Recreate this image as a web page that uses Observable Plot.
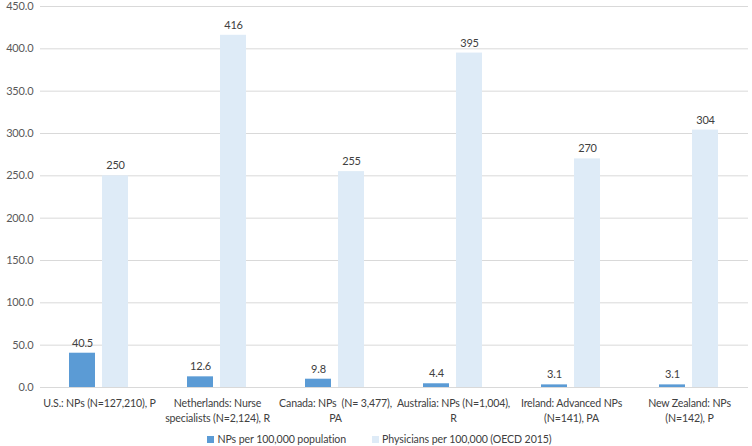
<!DOCTYPE html>
<html>
<head>
<meta charset="utf-8">
<script src="https://cdn.jsdelivr.net/npm/d3@7"></script>
<script src="https://cdn.jsdelivr.net/npm/@observablehq/plot@0.6"></script>
<style>
  body { margin: 0; background: #fff; font-family: Lato, "Open Sans", sans-serif; }
  #chart { width: 752px; }
  .legend { display: flex; justify-content: center; gap: 26px; font-size: 10.6px; letter-spacing: -0.1px; line-height: 14px; color: #404040; margin-top: 4px; padding-left: 7px; }
  .legend span.sw { display: inline-block; width: 7px; height: 7px; margin-right: 3px; vertical-align: 0px; }
  svg text { letter-spacing: -0.15px; }
</style>
</head>
<body>
<div id="chart"></div>
<script>
const categories = [
  "U.S.: NPs (N=127,210), P",
  "Netherlands: Nurse\nspecialists (N=2,124), R",
  "Canada: NPs  (N= 3,477),\nPA",
  "Australia: NPs (N=1,004),\nR",
  "Ireland: Advanced NPs\n(N=141), PA",
  "New Zealand: NPs\n(N=142), P"
];
const seriesNames = ["NPs per 100,000 population", "Physicians per 100,000 (OECD 2015)"];
const npValues = [40.5, 12.6, 9.8, 4.4, 3.1, 3.1];
const physValues = [250, 416, 255, 395, 270, 304];
const yTicks = [0, 50, 100, 150, 200, 250, 300, 350, 400, 450];
const colors = ["#5B9BD5", "#DEEBF7"];

const data = [];
categories.forEach((c, i) => {
  data.push({cat: c, series: seriesNames[0], value: npValues[i], label: npValues[i].toFixed(1)});
  data.push({cat: c, series: seriesNames[1], value: physValues[i], label: String(physValues[i])});
});

const chart = Plot.plot({
  width: 752,
  height: 428,
  marginLeft: 38,
  marginRight: 2,
  marginTop: 6,
  marginBottom: 41,
  style: {fontFamily: "Lato, 'Open Sans', sans-serif", fontSize: "10.6px", color: "#404040", overflow: "visible"},
  fx: {domain: categories, padding: 0, label: null},
  x: {domain: seriesNames, paddingInner: 0.2, paddingOuter: 0.85, axis: null},
  y: {domain: [0, 450], label: null},
  color: {domain: seriesNames, range: colors},
  marks: [
    Plot.gridY(yTicks, {stroke: "#d9d9d9", strokeOpacity: 1}),
    Plot.axisY(yTicks, {tickFormat: d => d.toFixed(1), tickSize: 0, tickPadding: 7, fill: "#595959", label: null, fontSize: 11}),
    Plot.barY(data, {fx: "cat", x: "series", y: "value", fill: "series"}),
    Plot.ruleY([0], {stroke: "#d9d9d9"}),
    Plot.text(data, {fx: "cat", x: "series", y: "value", text: "label", dy: -10, fill: "#404040", fontSize: 11}),
    Plot.axisFx({anchor: "bottom", tickSize: 0, tickPadding: 9, label: null, lineHeight: 1.42, fontSize: 10.6, fill: "#404040"})
  ]
});
document.getElementById("chart").appendChild(chart);

const legend = document.createElement("div");
legend.className = "legend";
seriesNames.forEach((s, i) => {
  const item = document.createElement("div");
  const sw = document.createElement("span");
  sw.className = "sw";
  sw.style.background = colors[i];
  item.appendChild(sw);
  item.appendChild(document.createTextNode(s));
  legend.appendChild(item);
});
document.getElementById("chart").appendChild(legend);
</script>
</body>
</html>
